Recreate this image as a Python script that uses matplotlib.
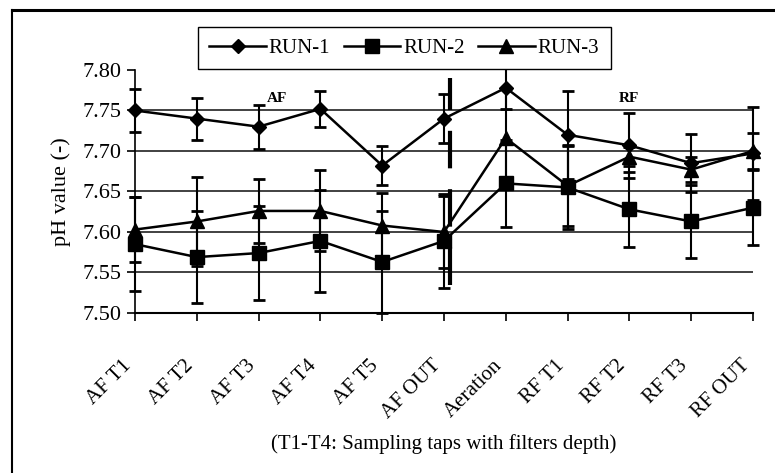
import matplotlib
matplotlib.use("Agg")
import matplotlib.pyplot as plt
from matplotlib.lines import Line2D
from matplotlib.transforms import ScaledTranslation
import numpy as np

plt.rcParams['font.family'] = ['Liberation Serif', 'DejaVu Serif']

# sampling points
labels = ['AF T1', 'AF T2', 'AF T3', 'AF T4', 'AF T5', 'AF OUT',
          'Aeration', 'RF T1', 'RF T2', 'RF T3', 'RF OUT']

# mean pH per run
run1 = [7.750, 7.740, 7.730, 7.752, 7.682, 7.740, 7.778, 7.720, 7.707, 7.685, 7.697]
run2 = [7.585, 7.569, 7.574, 7.589, 7.563, 7.589, 7.660, 7.655, 7.628, 7.613, 7.630]
run3 = [7.603, 7.613, 7.626, 7.626, 7.608, 7.600, 7.716, 7.657, 7.693, 7.677, 7.700]

# standard deviations
err1 = [0.026, 0.026, 0.027, 0.022, 0.024, 0.030, 0.026, 0.054, 0.040, 0.036, 0.057]
err2 = [0.058, 0.057, 0.058, 0.063, 0.063, 0.058, 0.054, 0.051, 0.046, 0.045, 0.046]
err3 = [0.040, 0.055, 0.040, 0.050, 0.040, 0.045, 0.060, 0.050, 0.012, 0.015, 0.022]

x = np.arange(len(labels))

fig = plt.figure(figsize=(7.75, 4.73), dpi=100)
ax = fig.add_axes([135/775, 1-313/473, (753-135)/775, (313-70)/473])

# outer chart frame (top and left only visible)
fig.add_artist(Line2D([12/775, 1], [1-10/473, 1-10/473], color='black', lw=2.2))
fig.add_artist(Line2D([12/775, 12/775], [0, 1-10/473], color='black', lw=1.5))

for vals, errs, mk, ms in [(run1, err1, 'D', 7.5), (run2, err2, 's', 9.5), (run3, err3, '^', 10)]:
    ax.errorbar(x, vals, yerr=errs, color='black', lw=1.8, marker=mk, ms=ms,
                ecolor='black', elinewidth=1.5, capsize=4.5, capthick=2, clip_on=False, zorder=3)

# separator between aerated filter and roughing filter
ax.plot([5.1, 5.1], [7.535, 7.79], color='black', lw=3, ls=(0, (9, 5)), zorder=4)

ax.text(2.3, 7.757, 'AF', fontsize=11, fontweight='bold', ha='center', va='bottom')
ax.text(8.0, 7.757, 'RF', fontsize=11, fontweight='bold', ha='center', va='bottom')

ax.set_xlim(0, 10)
ax.set_ylim(7.50, 7.80)
ax.set_yticks([7.50, 7.55, 7.60, 7.65, 7.70, 7.75, 7.80])
ax.set_yticklabels(['%.2f' % v for v in ax.get_yticks()], fontsize=16)
for yv in [7.55, 7.60, 7.65, 7.70, 7.75]:
    ax.axhline(yv, color='#333333', lw=1.3, zorder=1)

ax.set_xticks(x)
ax.set_xticklabels(labels, rotation=45, ha='right', rotation_mode='anchor', fontsize=15)
ax.tick_params(axis='x', direction='out', length=6, width=1.2, pad=25)
ax.tick_params(axis='y', direction='out', length=6, width=1.2, pad=4)
shift = ScaledTranslation(-13/100, 0, fig.dpi_scale_trans)
for lab in ax.get_xticklabels():
    lab.set_transform(lab.get_transform() + shift)

for s in ['top', 'right']:
    ax.spines[s].set_visible(False)
ax.spines['left'].set_linewidth(1.2)
ax.spines['bottom'].set_linewidth(1.5)

ax.set_ylabel('pH value (-)', fontsize=16, labelpad=8)
ax.set_xlabel('(T1-T4: Sampling taps with filters depth)', fontsize=15, labelpad=8)

handles = [Line2D([], [], color='black', lw=1.8, marker='D', ms=7.5),
           Line2D([], [], color='black', lw=1.8, marker='s', ms=9.5),
           Line2D([], [], color='black', lw=1.8, marker='^', ms=10)]
leg = fig.legend(handles, ['RUN-1', 'RUN-2', 'RUN-3'], ncol=3, fontsize=15,
                 loc='upper left', bbox_to_anchor=(198/775, 1-27/473),
                 frameon=True, fancybox=False, edgecolor='black', framealpha=1,
                 handlelength=2.7, handletextpad=0.15, columnspacing=0.65,
                 borderpad=0.55, borderaxespad=0)
leg.get_frame().set_linewidth(1.0)

fig.savefig('out.png', dpi=100)
